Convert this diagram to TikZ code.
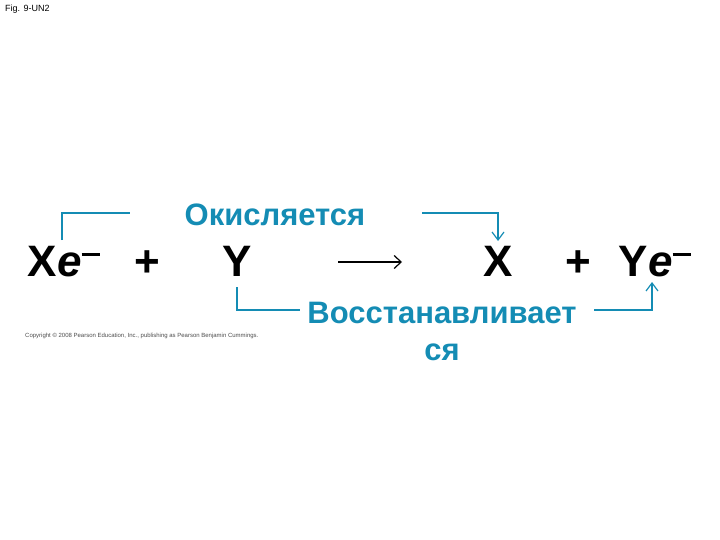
\documentclass[tikz,border=0pt]{standalone}
\usepackage{fontspec}
\setmainfont{Liberation Sans}
\usetikzlibrary{arrows.meta}
\definecolor{teal1}{RGB}{20,140,180}
\begin{document}
\begin{tikzpicture}[x=1pt,y=-1pt,
  big/.style={font=\fontsize{44}{44}\bfseries\selectfont,inner sep=0pt,anchor=base},
  lab/.style={font=\fontsize{31}{37}\bfseries\selectfont,text=teal1,inner sep=0pt},
  con/.style={teal1,line width=1.2pt},
  tip/.style={con,-{Straight Barb[length=8pt,width=12pt]}}]
\useasboundingbox (0,0) rectangle (720,540);
\node[anchor=north west,inner sep=0pt,font=\fontsize{9}{9}\selectfont] (fig) at (5,5) {Fig. 9-UN2};
\node[big] (xe) at (64,276) {X\textit{e}\raisebox{0.45em}{\rule{0.42em}{0.08em}}};
\node[big] (p1) at (147,276) {+};
\node[big] (y) at (237,276) {Y};
\node[big] (x) at (498,276) {X};
\node[big] (p2) at (578,276) {+};
\node[big] (ye) at (655,276) {Y\textit{e}\raisebox{0.45em}{\rule{0.42em}{0.08em}}};
\coordinate (a1) at (338,262); \coordinate (a2) at (402,262);
\draw[line width=1.2pt,-{Straight Barb[length=7pt,width=13pt]}] (a1) -- (a2);
\node[lab] (ok) at (275,215) {Окисляется};
\node[lab,align=center] (vo) at (442,331) {Восстанавливает\\ся};
\coordinate (t1) at (62,240); \coordinate (t2) at (62,213); \coordinate (t3) at (130,213);
\draw[con] (t1) -- (t2) -- (t3);
\coordinate (r1) at (422,213); \coordinate (r2) at (498,213); \coordinate (r3) at (498,241);
\draw[tip] (r1) -- (r2) -- (r3);
\coordinate (b1) at (237,287); \coordinate (b2) at (237,310); \coordinate (b3) at (300,310);
\draw[con] (b1) -- (b2) -- (b3);
\coordinate (c1) at (594,310); \coordinate (c2) at (652,310); \coordinate (c3) at (652,282);
\draw[tip] (c1) -- (c2) -- (c3);
\node[anchor=west,inner sep=0pt,font=\fontsize{6}{6}\selectfont,text=black!70] (cp) at (25,336) {Copyright © 2008 Pearson Education, Inc., publishing as Pearson Benjamin Cummings.};
\end{tikzpicture}
\end{document}
